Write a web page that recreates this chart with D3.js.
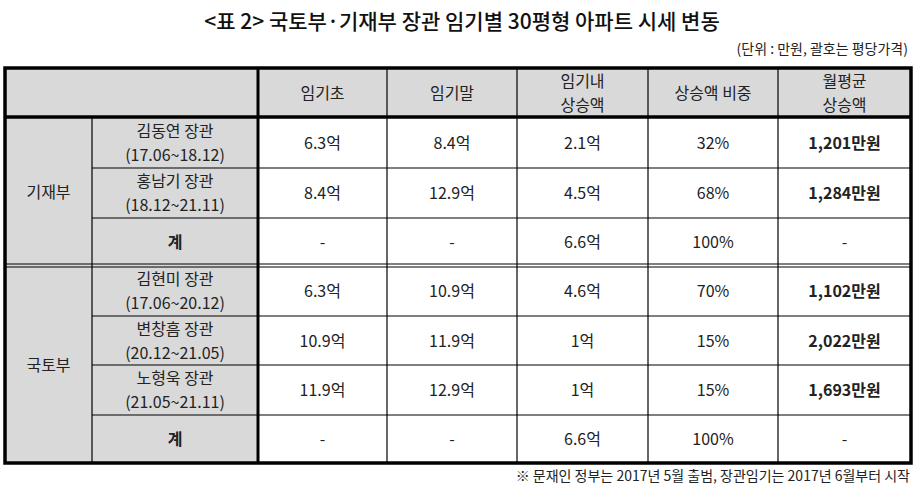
<!DOCTYPE html>
<html><head><meta charset="utf-8">
<script src="https://cdn.jsdelivr.net/npm/d3@7"></script>
<style>body{margin:0;background:#fff}</style></head>
<body><svg id="c" width="924" height="495"></svg>
<script>
const title = "<표 2> 국토부·기재부 장관 임기별 30평형 아파트 시세 변동";
const unitNote = "(단위 : 만원, 괄호는 평당가격)";
const footnote = "※ 문재인 정부는 2017년 5월 출범, 장관임기는 2017년 6월부터 시작";
const headers = [["임기초"],["임기말"],["임기내","상승액"],["상승액 비중"],["월평균","상승액"]];
const groups = ["기재부","국토부"];
const ministers = [
 ["김동연 장관","(17.06~18.12)"],["홍남기 장관","(18.12~21.11)"],["계"],
 ["김현미 장관","(17.06~20.12)"],["변창흠 장관","(20.12~21.05)"],["노형욱 장관","(21.05~21.11)"],["계"]];
const startVal = ["6.3억","8.4억","-","6.3억","10.9억","11.9억","-"];
const endVal   = ["8.4억","12.9억","-","10.9억","11.9억","12.9억","-"];
const rise     = ["2.1억","4.5억","6.6억","4.6억","1억","1억","6.6억"];
const share    = ["32%","68%","100%","70%","15%","15%","100%"];
const monthly  = ["1,201만원","1,284만원","-","1,102만원","2,022만원","1,693만원","-"];

const svg = d3.select("#c");
const font = "'Noto Sans CJK KR', sans-serif";
const colEdges = [5,92,258,387,517,648,778,911];
const rowEdges = [68,117,168,218,266,316,365,415,463];
const gray = "#d9d9d9";
const x = i => colEdges[i], y = i => rowEdges[i];

svg.append("text").attr("x",462).attr("y",29).attr("text-anchor","middle")
 .attr("font-family",font).attr("font-size",21).attr("font-weight",500).attr("fill","#111").text(title);
svg.append("text").attr("x",908).attr("y",54).attr("text-anchor","end")
 .attr("font-family",font).attr("font-size",14).attr("fill","#222").text(unitNote);
svg.append("text").attr("x",910).attr("y",481).attr("text-anchor","end")
 .attr("font-family",font).attr("font-size",14).attr("fill","#222").text(footnote);

// backgrounds
svg.append("rect").attr("x",x(0)).attr("y",y(0)).attr("width",x(7)-x(0)).attr("height",y(1)-y(0)).attr("fill",gray);
svg.append("rect").attr("x",x(0)).attr("y",y(1)).attr("width",x(2)-x(0)).attr("height",y(8)-y(1)).attr("fill",gray);

const g = svg.append("g").attr("stroke","#000").attr("fill","none");
function line(x1,y1,x2,y2,w){g.append("line").attr("x1",x1).attr("y1",y1).attr("x2",x2).attr("y2",y2).attr("stroke-width",w);}
// horizontal thin lines
[2,3,5,6,7].forEach(r=>{ line(x(1),y(r),x(7),y(r),1.2); });
line(x(0),y(1),x(7),y(1),3.5);
line(x(0),y(4)-2,x(7),y(4)-2,1.2);
line(x(0),y(4)+1,x(7),y(4)+1,1.2);
// vertical
[1].forEach(c=>line(x(c),y(1),x(c),y(8),1.2));
[3,4,5,6].forEach(c=>line(x(c),y(0),x(c),y(8),1.2));
line(x(2),y(0),x(2),y(8),3);
g.append("rect").attr("x",x(0)).attr("y",y(0)).attr("width",x(7)-x(0)).attr("height",y(8)-y(0)).attr("stroke-width",3.5);

function cellText(lines,cx,cy,opts={}){
  const lh = 24, n = lines.length;
  lines.forEach((t,k)=>{
    svg.append("text").attr("x",cx).attr("y",cy+(k-(n-1)/2)*lh+6).attr("text-anchor","middle")
     .attr("font-family",font).attr("font-size",opts.size||16).attr("font-weight",opts.bold?700:400)
     .attr("fill","#222").text(t);
  });
}
headers.forEach((h,i)=>cellText(h,(x(i+2)+x(i+3))/2,(y(0)+y(1))/2));
cellText([groups[0]],(x(0)+x(1))/2,(y(1)+y(4))/2);
cellText([groups[1]],(x(0)+x(1))/2,(y(4)+y(8))/2);
const cols = [startVal,endVal,rise,share,monthly];
ministers.forEach((m,r)=>{
  const cy=(y(r+1)+y(r+2))/2;
  cellText(m,(x(1)+x(2))/2,cy,{bold:m.length===1});
  cols.forEach((arr,c)=>cellText([arr[r]],(x(c+2)+x(c+3))/2,cy,{bold:c===4&&arr[r]!=="-"}));
});
</script></body></html>
